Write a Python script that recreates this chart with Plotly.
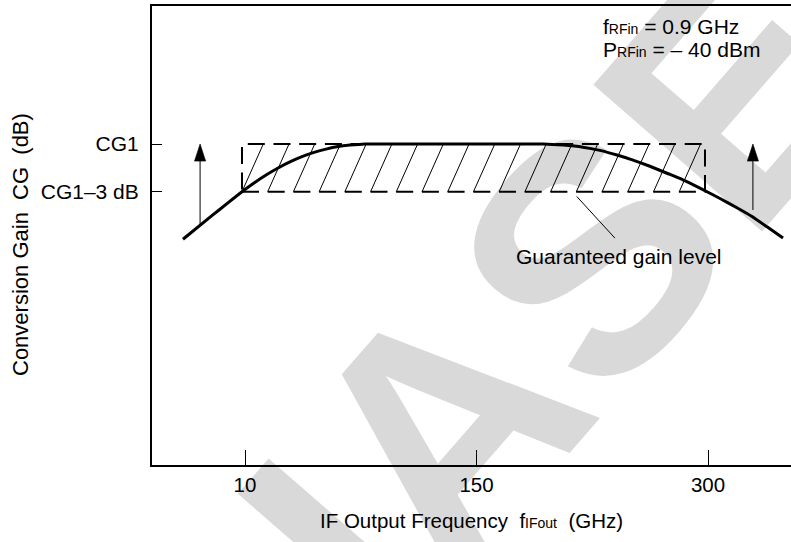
import numpy as np
import plotly.graph_objects as go

# ---------------- data (schematic units) ----------------
# x: tick index units (10, 150, 300); y: dB relative to CG1-3 dB
x_tick_pos = [0, 1, 2]
x_tick_text = ["10", "150", "300"]
y_tick_pos = [0, 3]
y_tick_text = ["CG1\u20133 dB", "CG1"]

curve_x = [-0.268, -0.143, -0.078, -0.013, 0.039, 0.091, 0.143, 0.194, 0.246,
           0.298, 0.350, 0.402, 0.454, 0.518, 0.80, 1.05, 1.287, 1.374, 1.460,
           1.533, 1.607, 1.676, 1.749, 1.823, 1.892, 1.965, 2.052, 2.125,
           2.190, 2.255, 2.324]
curve_y = [-2.99, -1.51, -0.75, 0.0, 0.55, 1.05, 1.49, 1.87, 2.20,
           2.47, 2.68, 2.84, 2.93, 3.0, 3.0, 3.0, 3.0, 2.93, 2.80,
           2.60, 2.31, 1.99, 1.60, 1.16, 0.75, 0.23, -0.43, -1.01,
           -1.56, -2.21, -2.91]

box_x = [-0.013, 1.987]     # guaranteed band, 10 ... 300
box_y = [0, 3]              # CG1-3 dB ... CG1
hatch_count = 18
hatch_slant = 0.092

arrow_x = [-0.194, 2.194]
arrow_base_y = [-2.1, -1.15]
arrow_tip_y = [3.0, 3.0]

leader_x = [1.433, 1.598]
leader_y = [-0.30, -2.92]

# ---------------- layout geometry ----------------
W_FIG, H_FIG = 791, 542
L, R, T, B = 152, 0, 6, 77
PW, PH = W_FIG - L - R, H_FIG - T - B
X0PX, XSC = 245.0, 231.5      # pixel of x=0, pixels per x unit
Y0PX, YSC = 191.7, 15.9       # pixel of y=0, pixels per y unit

def pxp(xp):
    return (xp - L) / PW

def pyp(yp):
    return (T + PH - yp) / PH

FONT = "Liberation Sans, Arial, Helvetica, sans-serif"
FS = 21
BLACK = "#000000"

fig = go.Figure()

# hatch lines inside guaranteed box
hx, hy = [], []
step = (box_x[1] - box_x[0]) / hatch_count
for k in range(hatch_count):
    xb = box_x[0] + k * step
    xt = xb + hatch_slant
    if xt > box_x[1]:
        continue
    hx += [xb, xt, None]
    hy += [box_y[0], box_y[1], None]
fig.add_trace(go.Scatter(x=hx, y=hy, mode="lines",
                         line=dict(color=BLACK, width=1), hoverinfo="skip"))

# dashed box
fig.add_trace(go.Scatter(
    x=[box_x[0], box_x[1], box_x[1], box_x[0], box_x[0]],
    y=[box_y[0], box_y[0], box_y[1], box_y[1], box_y[0]],
    mode="lines", line=dict(color=BLACK, width=2, dash="17px,8.7px"),
    hoverinfo="skip"))

# main curve
fig.add_trace(go.Scatter(x=curve_x, y=curve_y, mode="lines",
                         line=dict(color=BLACK, width=3, shape="spline", smoothing=0.4),
                         hoverinfo="skip"))

# arrows: shaft + head
for ax_, yb, yt in zip(arrow_x, arrow_base_y, arrow_tip_y):
    fig.add_trace(go.Scatter(x=[ax_, ax_], y=[yb, yt - 0.6], mode="lines",
                             line=dict(color=BLACK, width=1), hoverinfo="skip"))
    fig.add_trace(go.Scatter(x=[ax_], y=[yt], mode="markers",
                             marker=dict(symbol="arrow", size=18, color=BLACK,
                                         line=dict(color=BLACK, width=0.6)),
                             hoverinfo="skip"))

# leader line
fig.add_trace(go.Scatter(x=leader_x, y=leader_y, mode="lines",
                         line=dict(color=BLACK, width=1), hoverinfo="skip"))

xr = [(L - X0PX) / XSC, (W_FIG - R - X0PX) / XSC]
yr = [(Y0PX - (T + PH)) / YSC, (Y0PX - T) / YSC]

fig.update_layout(
    width=W_FIG, height=H_FIG,
    margin=dict(l=L, r=R, t=T, b=B, pad=0),
    paper_bgcolor="white", plot_bgcolor="rgba(0,0,0,0)",
    showlegend=False,
    font=dict(family=FONT, size=FS, color=BLACK),
    xaxis=dict(range=xr, tickmode="array", tickvals=x_tick_pos, ticktext=x_tick_text,
               ticks="inside", ticklen=15, tickwidth=1, tickcolor=BLACK,
               showline=True, linewidth=2, linecolor=BLACK, mirror=True,
               showgrid=False, zeroline=False, fixedrange=True,
               tickfont=dict(family=FONT, size=20.5, color=BLACK)),
    yaxis=dict(range=yr, tickmode="array", tickvals=y_tick_pos, ticktext=y_tick_text,
               ticks="inside", ticklen=10, tickwidth=1, tickcolor=BLACK,
               ticklabelstandoff=7,
               showline=True, linewidth=2, linecolor=BLACK, mirror=False,
               showgrid=False, zeroline=False, fixedrange=True,
               tickfont=dict(family=FONT, size=FS, color=BLACK)),
)

# watermark (drawn below everything)
wc = (675, 113)
fig.add_shape(type="rect", xref="paper", yref="paper",
              x0=pxp(wc[0]) - 0.01, x1=pxp(wc[0]) + 0.01,
              y0=pyp(wc[1]) - 0.01, y1=pyp(wc[1]) + 0.01,
              line=dict(width=0), fillcolor="rgba(0,0,0,0)", layer="below",
              label=dict(text="PHASE-OUT", textangle=-49, textposition="middle center",
                         font=dict(family=FONT, size=325, color="#d9d9d9", weight="bold")))

# annotations
sub = "<span style='font-size:14px'>{}</span>"
ann = [
    dict(text="f" + sub.format("RFin") + " = 0.9 GHz", x=pxp(601), y=pyp(26),
         xanchor="left", size=FS),
    dict(text="P" + sub.format("RFin") + " = \u2013 40 dBm", x=pxp(601), y=pyp(49),
         xanchor="left", size=FS),
    dict(text="Guaranteed gain level", x=pxp(618.5), y=pyp(256.5),
         xanchor="center", size=FS),
    dict(text="IF Output Frequency  f" + sub.format("IFout") + "  (GHz)",
         x=pxp(471.5), y=pyp(520), xanchor="center", size=20.5),
    dict(text="Conversion Gain  CG  (dB)", x=pxp(20), y=pyp(245), xanchor="center",
         textangle=-90, size=22),
]
for a in ann:
    s = a.pop("size")
    fig.add_annotation(xref="paper", yref="paper", showarrow=False, yanchor="middle",
                       font=dict(family=FONT, size=s, color=BLACK), **a)

fig.write_html("out.html")
